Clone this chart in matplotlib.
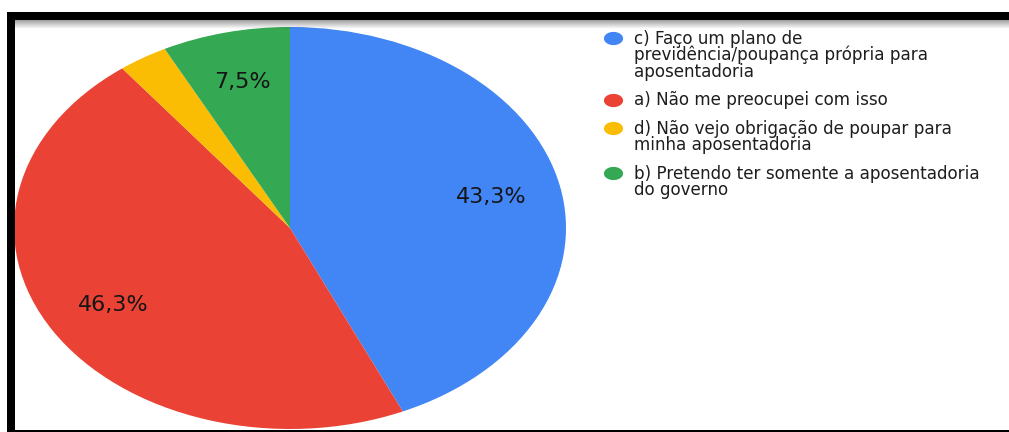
import numpy as np
import matplotlib
matplotlib.use("Agg")
import matplotlib.pyplot as plt
from matplotlib.patches import Rectangle
from matplotlib.path import Path

# --- DATA ---
labels = [
    "c) Faço um plano de\nprevidência/poupança própria para\naposentadoria",
    "a) Não me preocupei com isso",
    "d) Não vejo obrigação de poupar para\nminha aposentadoria",
    "b) Pretendo ter somente a aposentadoria\ndo governo",
]
shares = [43.3, 46.3, 2.9, 7.5]
colors = ["#4285f4", "#ea4335", "#fbbc04", "#34a853"]

W, H = 1009, 432
plt.rcParams['font.family'] = ['DejaVu Sans']

fig = plt.figure(figsize=(W / 100, H / 100), dpi=100)
fig.patch.set_facecolor("white")

# pie axes (stretched, so the pie is an ellipse)
cx, cy, rx, ry = 290, 228, 276, 201
ax = fig.add_axes([(cx - rx) / W, (H - cy - ry) / H, 2 * rx / W, 2 * ry / H])


def pct_label(p):
    # small slices get no label
    if p < 5:
        return ""
    return f"{p:.1f}%".replace(".", ",")


wedges, texts, autotexts = ax.pie(
    shares, colors=colors, startangle=90, counterclock=False,
    autopct=pct_label, pctdistance=0.745,
    textprops=dict(fontsize=16, color="#151515"),
    wedgeprops=dict(linewidth=0),
)
ax.set_aspect("auto")
ax.set_xlim(-1, 1)
ax.set_ylim(-1, 1)
ax.axis("off")

# overlay in pixel coordinates for legend and frame
ov = fig.add_axes([0, 0, 1, 1], zorder=5)
ov.set_xlim(0, W)
ov.set_ylim(H, 0)
ov.axis("off")
ov.patch.set_alpha(0)

# legend: elliptical dots + wrapped text
t = np.linspace(0, 2 * np.pi, 60)
dot = Path(np.column_stack([1.45 * np.cos(t), np.sin(t)]))
line_h, item_gap = 16.6, 28.5
base = 43.5
for lab, col in zip(labels, colors):
    lines = lab.split("\n")
    ov.scatter([613], [base - 5.5], s=190, marker=dot, color=col, linewidths=0)
    for i, ln in enumerate(lines):
        ov.text(634, base + i * line_h, ln, fontsize=12.1, color="#1e1e1e",
                ha="left", va="baseline")
    base += (len(lines) - 1) * line_h + item_gap

# frame: black bars and a soft shadow under the top one
ov.add_patch(Rectangle((7, 12), W - 7, 7.5, color="black", lw=0))
ov.add_patch(Rectangle((7, 12), 8, H - 12, color="black", lw=0))
ov.add_patch(Rectangle((7, 430), W - 7, 2, color="black", lw=0))
shade = np.zeros((20, 2, 4))
shade[:, :, 3] = np.linspace(0.42, 0.0, 20)[:, None]
ov.imshow(shade, extent=(15, W, 29, 19.5), aspect="auto", interpolation="bilinear")
ov.set_xlim(0, W)
ov.set_ylim(H, 0)

fig.savefig("out.png", dpi=100)
